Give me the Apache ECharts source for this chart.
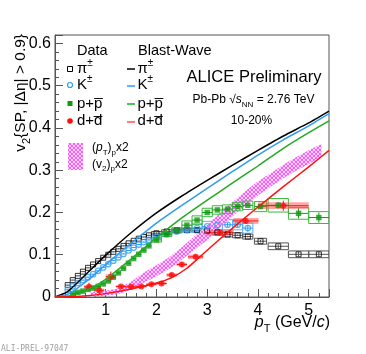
<!DOCTYPE html>
<html>
<head>
<meta charset="utf-8">
<script src="https://cdn.jsdelivr.net/npm/echarts@6/dist/echarts.min.js"></script>
<style>
  html, body { margin: 0; padding: 0; background: #fff; }
  #chart { width: 366px; height: 354px; }
</style>
</head>
<body>
<div id="chart"></div>
<script>
// pions (open black squares)
const piX = [0.25, 0.35, 0.45, 0.55, 0.65, 0.75, 0.85, 0.95, 1.05, 1.15, 1.25, 1.35, 1.45, 1.55, 1.65, 1.75, 1.85,
  2.0, 2.2, 2.4, 2.6, 2.8, 3.0, 3.2, 3.4, 3.6, 3.8, 4.05, 4.4, 4.8, 5.2];
const piY = [0.028, 0.04, 0.05, 0.06, 0.069, 0.077, 0.085, 0.093, 0.1, 0.107, 0.114, 0.121, 0.127, 0.133, 0.138, 0.142, 0.146,
  0.151, 0.155, 0.157, 0.158, 0.158, 0.157, 0.153, 0.148, 0.146, 0.143, 0.132, 0.12, 0.101, 0.101];
const piBin = [0.05, 0.05, 0.05, 0.05, 0.05, 0.05, 0.05, 0.05, 0.05, 0.05, 0.05, 0.05, 0.05, 0.05, 0.05, 0.05, 0.05,
  0.1, 0.1, 0.1, 0.1, 0.1, 0.1, 0.1, 0.1, 0.1, 0.1, 0.12, 0.2, 0.2, 0.2];
const piSys = [0, 0, 0, 0, 0, 0, 0, 0, 0, 0, 0, 0, 0, 0, 0, 0, 0,
  0.004, 0.004, 0.004, 0.004, 0.004, 0.006, 0.006, 0.006, 0.006, 0.006, 0.007, 0.008, 0.008, 0.008];
const piStat = [0.001, 0.001, 0.001, 0.001, 0.001, 0.001, 0.001, 0.001, 0.001, 0.001, 0.001, 0.001, 0.001, 0.001, 0.001, 0.001, 0.001,
  0.002, 0.002, 0.002, 0.002, 0.002, 0.002, 0.002, 0.002, 0.002, 0.002, 0.003, 0.004, 0.005, 0.006];

// kaons (open blue circles)
const kX = [0.25, 0.35, 0.45, 0.55, 0.65, 0.75, 0.85, 0.95, 1.05, 1.15, 1.25, 1.35, 1.45, 1.55, 1.65, 1.75, 1.85,
  2.0, 2.2, 2.4, 2.6, 2.8, 3.0, 3.2, 3.4, 3.6, 3.8];
const kY = [0.017, 0.025, 0.033, 0.04, 0.047, 0.054, 0.062, 0.07, 0.078, 0.086, 0.094, 0.102, 0.11, 0.117, 0.124, 0.13, 0.135,
  0.142, 0.149, 0.155, 0.159, 0.163, 0.167, 0.17, 0.171, 0.171, 0.163];
const kBin = [0.05, 0.05, 0.05, 0.05, 0.05, 0.05, 0.05, 0.05, 0.05, 0.05, 0.05, 0.05, 0.05, 0.05, 0.05, 0.05, 0.05,
  0.1, 0.1, 0.1, 0.1, 0.1, 0.1, 0.1, 0.1, 0.1, 0.1];
const kSys = [0, 0, 0, 0, 0, 0, 0, 0, 0, 0, 0, 0, 0, 0, 0, 0, 0,
  0.004, 0.004, 0.004, 0.005, 0.01, 0.012, 0.012, 0.012, 0.012, 0.012];
const kStat = [0.001, 0.001, 0.001, 0.001, 0.001, 0.001, 0.001, 0.001, 0.001, 0.001, 0.001, 0.001, 0.001, 0.001, 0.001, 0.001, 0.001,
  0.002, 0.002, 0.002, 0.002, 0.003, 0.003, 0.004, 0.005, 0.006, 0.008];

// protons (filled green squares)
const pX = [0.35, 0.45, 0.55, 0.65, 0.75, 0.85, 0.95, 1.05, 1.15, 1.25, 1.35, 1.45, 1.55, 1.65, 1.75, 1.85,
  2.0, 2.2, 2.4, 2.6, 2.8, 3.0, 3.2, 3.4, 3.6, 3.8, 4.05, 4.4, 4.8, 5.2];
const pY = [0.008, 0.011, 0.014, 0.018, 0.021, 0.025, 0.031, 0.038, 0.047, 0.057, 0.068, 0.08, 0.091, 0.101, 0.111, 0.121,
  0.135, 0.148, 0.159, 0.17, 0.182, 0.2, 0.206, 0.208, 0.214, 0.217, 0.214, 0.217, 0.198, 0.188];
const pBin = [0.05, 0.05, 0.05, 0.05, 0.05, 0.05, 0.05, 0.05, 0.05, 0.05, 0.05, 0.05, 0.05, 0.05, 0.05, 0.05,
  0.1, 0.1, 0.1, 0.1, 0.1, 0.1, 0.1, 0.1, 0.1, 0.1, 0.12, 0.2, 0.2, 0.2];
const pSys = [0, 0, 0, 0, 0, 0, 0, 0, 0, 0, 0, 0, 0, 0, 0, 0,
  0.005, 0.005, 0.005, 0.01, 0.01, 0.01, 0.01, 0.01, 0.01, 0.01, 0.012, 0.016, 0.014, 0.014];
const pStat = [0.001, 0.001, 0.001, 0.001, 0.001, 0.001, 0.001, 0.001, 0.001, 0.001, 0.001, 0.001, 0.001, 0.001, 0.001, 0.001,
  0.002, 0.002, 0.002, 0.002, 0.002, 0.002, 0.002, 0.002, 0.002, 0.002, 0.005, 0.008, 0.012, 0.012];

// deuterons (filled red circles)
const dX = [0.67, 0.87, 1.1, 1.3, 1.5, 1.7, 1.9, 2.1, 2.3, 2.5, 2.77, 3.25, 3.76, 4.5];
const dY = [0.024, 0.016, 0.048, 0.025, 0.024, 0.025, 0.03, 0.032, 0.052, 0.077, 0.095, 0.152, 0.18, 0.216];
const dBin = [0.1, 0.1, 0.1, 0.1, 0.1, 0.1, 0.1, 0.1, 0.1, 0.1, 0.15, 0.27, 0.25, 0.5];
const dSys = [0.004, 0.004, 0.006, 0.003, 0.003, 0.003, 0.003, 0.003, 0.004, 0.004, 0.005, 0.007, 0.007, 0.008];
const dStat = [0.01, 0.012, 0.012, 0.004, 0.004, 0.004, 0.004, 0.004, 0.005, 0.006, 0.006, 0.006, 0.006, 0.012];

// (pT)p x2, (v2)p x2 band
const bandX = [0.7, 1.0, 1.25, 1.5, 1.75, 2.0, 2.25, 2.5, 2.75, 3.0, 3.25, 3.5, 3.75, 4.0, 4.25, 4.5, 4.75, 5.0, 5.25];
const bandLow = [0.001, 0.003, 0.007, 0.018, 0.034, 0.049, 0.066, 0.088, 0.112, 0.135, 0.165, 0.191, 0.216, 0.24, 0.261, 0.281, 0.299, 0.315, 0.332];
const bandHigh = [0.011, 0.015, 0.021, 0.036, 0.058, 0.075, 0.094, 0.118, 0.144, 0.169, 0.199, 0.225, 0.25, 0.274, 0.293, 0.313, 0.331, 0.347, 0.362];

// blast-wave curves
const bwX = [0, 0.25, 0.5, 0.75, 1.0, 1.5, 2.0, 2.5, 3.0, 3.5, 4.0, 4.5, 5.0, 5.4];
const bwPi = [0, 0.013, 0.041, 0.07, 0.099, 0.152, 0.199, 0.239, 0.276, 0.312, 0.347, 0.381, 0.412, 0.44];
const bwK = [0, 0.006, 0.026, 0.05, 0.077, 0.127, 0.175, 0.217, 0.257, 0.297, 0.336, 0.372, 0.405, 0.434];
const bwP = [0, 0.002, 0.01, 0.024, 0.042, 0.09, 0.14, 0.187, 0.229, 0.27, 0.31, 0.352, 0.389, 0.417];
const bwDX = [0, 0.5, 1.0, 1.5, 2.0, 2.3, 2.6, 2.9, 3.2, 3.5, 4.0, 4.5, 5.0, 5.4];
const bwD = [0, 0.002, 0.008, 0.019, 0.033, 0.046, 0.068, 0.1, 0.132, 0.163, 0.213, 0.261, 0.308, 0.347];

const FF = '"Liberation Sans", Arial, Helvetica, sans-serif';
const BLACK = '#000000';
const BLUE = '#2d9cf2';
const GREEN = '#129912';
const RED = '#ff1010';

const zip = (xs, ys) => xs.map((x, i) => [x, ys[i]]);
const errData = (xs, ys, bin, sys, stat) => xs.map((x, i) => [x, ys[i], bin[i], sys[i], stat[i]]);

// hatch pattern for the magenta band
const hatch = document.createElement('canvas');
hatch.width = 4;
hatch.height = 4;
const hg = hatch.getContext('2d');
hg.fillStyle = '#ff5cff';
hg.fillRect(0, 0, 4, 4);
hg.fillStyle = '#ffd6ff';
for (let i = 0; i < 4; i++) {
  hg.fillRect(i, i, 1, 1);
  hg.fillRect(3 - i, i, 1, 1);
}
const hatchFill = { image: hatch, repeat: 'repeat' };

function errorSeries(data, boxStyle, barColor) {
  return {
    type: 'custom',
    data: data,
    encode: { x: 0, y: 1 },
    clip: true,
    silent: true,
    renderItem: function (params, api) {
      const x = api.value(0), y = api.value(1);
      const bin = api.value(2), sys = api.value(3), stat = api.value(4);
      const c = api.coord([x, y]);
      const l = api.coord([x - bin, y]);
      const r = api.coord([x + bin, y]);
      const children = [];
      if (sys > 0) {
        const a = api.coord([x - bin, y + sys]);
        const b = api.coord([x + bin, y - sys]);
        children.push({
          type: 'rect',
          shape: { x: a[0], y: a[1], width: b[0] - a[0], height: b[1] - a[1] },
          style: boxStyle
        });
      }
      const t = api.coord([x, y + stat]);
      const d = api.coord([x, y - stat]);
      children.push({ type: 'line', shape: { x1: l[0], y1: c[1], x2: r[0], y2: c[1] }, style: { stroke: barColor, lineWidth: 1 } });
      children.push({ type: 'line', shape: { x1: c[0], y1: t[1], x2: c[0], y2: d[1] }, style: { stroke: barColor, lineWidth: 1 } });
      return { type: 'group', children: children };
    }
  };
}

function bwLine(xs, ys, color) {
  return {
    type: 'line',
    data: zip(xs, ys),
    smooth: 0.2,
    showSymbol: false,
    silent: true,
    lineStyle: { color: color, width: 1.5 }
  };
}

const chart = echarts.init(document.getElementById('chart'));

const axisColor = '#555';
const sub = (size) => ({ fontSize: size, fontFamily: FF, verticalAlign: 'bottom', lineHeight: size + 1 });
const sup = (size) => ({ fontSize: size, fontFamily: FF, verticalAlign: 'top', lineHeight: size + 1 });
const ital = (size) => ({ fontSize: size, fontFamily: FF, fontStyle: 'italic' });

function label(x, y, text, size, extra) {
  return {
    type: 'text', x: x, y: y, silent: true,
    style: Object.assign({
      text: text, fontSize: size, fontFamily: FF, fill: '#000',
      align: 'left', verticalAlign: 'middle', lineHeight: Math.round(size * 1.4),
      rich: { sub: sub(Math.round(size * 0.68)), sup: sup(Math.round(size * 0.68)), i: ital(size) }
    }, extra || {})
  };
}

const option = {
  animation: false,
  backgroundColor: '#fff',
  grid: { left: 55, right: 37, top: 35, bottom: 57, show: true, borderColor: axisColor, borderWidth: 1 },
  xAxis: {
    type: 'value', min: 0, max: 5.4, interval: 1,
    axisLine: { show: true, lineStyle: { color: axisColor } },
    axisTick: { show: true, inside: true, length: 8, lineStyle: { color: axisColor } },
    minorTick: { show: true, splitNumber: 5, length: 4, lineStyle: { color: axisColor } },
    splitLine: { show: false },
    axisLabel: {
      fontFamily: FF, fontSize: 16, color: '#000', margin: 6, showMaxLabel: false,
      formatter: (v) => (v > 0 && v <= 5 ? String(v) : '')
    }
  },
  yAxis: {
    type: 'value', min: 0, max: 0.62, interval: 0.1,
    axisLine: { show: true, lineStyle: { color: axisColor } },
    axisTick: { show: true, inside: true, length: 8, lineStyle: { color: axisColor } },
    minorTick: { show: true, splitNumber: 5, length: 4, lineStyle: { color: axisColor } },
    splitLine: { show: false },
    axisLabel: {
      fontFamily: FF, fontSize: 16, color: '#000', margin: 4, showMaxLabel: false,
      formatter: (v) => (v === 0 ? '0' : v.toFixed(1))
    }
  },
  series: [
    bwLine(bwX, bwPi, BLACK),
    bwLine(bwX, bwK, BLUE),
    bwLine(bwX, bwP, '#22aa22'),
    bwLine(bwDX, bwD, RED),
    errorSeries(errData(piX, piY, piBin, piSys, piStat), { fill: 'none', stroke: '#555', lineWidth: 1 }, '#555'),
    {
      type: 'scatter', data: zip(piX, piY), symbol: 'rect', symbolSize: 5, silent: true,
      itemStyle: { color: 'rgba(0,0,0,0)', borderColor: BLACK, borderWidth: 1 }
    },
    errorSeries(errData(kX, kY, kBin, kSys, kStat), { fill: 'none', stroke: '#5ab0f5', lineWidth: 1 }, BLUE),
    {
      type: 'scatter', data: zip(kX, kY), symbol: 'circle', symbolSize: 5.5, silent: true,
      itemStyle: { color: 'rgba(0,0,0,0)', borderColor: BLUE, borderWidth: 1.2 }
    },
    {
      type: 'custom', data: [[0, 0]], silent: true, clip: true,
      renderItem: function (params, api) {
        const pts = [];
        for (let i = 0; i < bandX.length; i++) pts.push(api.coord([bandX[i], bandHigh[i]]));
        for (let i = bandX.length - 1; i >= 0; i--) pts.push(api.coord([bandX[i], bandLow[i]]));
        return { type: 'polygon', shape: { points: pts }, style: { fill: hatchFill, stroke: null } };
      }
    },
    errorSeries(errData(pX, pY, pBin, pSys, pStat), { fill: 'none', stroke: '#3cb83c', lineWidth: 1 }, GREEN),
    {
      type: 'scatter', data: zip(pX, pY), symbol: 'rect', symbolSize: 5.5, silent: true,
      itemStyle: { color: GREEN }
    },
    errorSeries(errData(dX, dY, dBin, dSys, dStat), { fill: 'rgba(255,80,80,0.5)', stroke: null }, RED),
    {
      type: 'scatter', data: zip(dX, dY), symbol: 'circle', symbolSize: 6, silent: true,
      itemStyle: { color: RED }
    }
  ],
  graphic: [
    // y axis title
    {
      type: 'text', x: 21, y: 34, rotation: Math.PI / 2, silent: true,
      style: {
        text: 'v{sub|2}{SP, |Δη| > 0.9}', fontSize: 15.5, fontFamily: FF, fill: '#000',
        align: 'right', verticalAlign: 'middle', lineHeight: 22,
        rich: { sub: sub(11) }
      }
    },
    // x axis title
    label(330, 323, '{i|p}{sub|T} (GeV/{i|c})', 16, { align: 'right' }),
    // legend headers
    label(77, 50.5, 'Data', 14.5),
    label(138, 50.5, 'Blast-Wave', 14.5),
    // data markers
    { type: 'rect', silent: true, shape: { x: 67.5, y: 66.5, width: 5, height: 5 }, style: { fill: 'none', stroke: BLACK, lineWidth: 1 } },
    { type: 'circle', silent: true, shape: { cx: 70, cy: 85, r: 2.5 }, style: { fill: 'none', stroke: BLUE, lineWidth: 1.2 } },
    { type: 'rect', silent: true, shape: { x: 67.5, y: 101, width: 5, height: 5 }, style: { fill: GREEN } },
    { type: 'circle', silent: true, shape: { cx: 70, cy: 121, r: 2.8 }, style: { fill: RED } },
    label(77, 68.5, 'π{sup|±}', 15),
    label(77, 85, 'K{sup|±}', 15),
    label(77, 103.5, 'p+p\u0305', 15),
    label(77, 121, 'd+d\u0305', 15),
    // blast-wave line samples
    { type: 'line', silent: true, shape: { x1: 127, y1: 69, x2: 135, y2: 69 }, style: { stroke: BLACK, lineWidth: 1.5 } },
    { type: 'line', silent: true, shape: { x1: 127, y1: 86, x2: 135, y2: 86 }, style: { stroke: BLUE, lineWidth: 1.5 } },
    { type: 'line', silent: true, shape: { x1: 127, y1: 104, x2: 135, y2: 104 }, style: { stroke: '#22aa22', lineWidth: 1.5 } },
    { type: 'line', silent: true, shape: { x1: 127, y1: 122, x2: 135, y2: 122 }, style: { stroke: '#ff5050', lineWidth: 1.5 } },
    label(137.5, 68.5, 'π{sup|±}', 15),
    label(137.5, 85, 'K{sup|±}', 15),
    label(137.5, 103.5, 'p+p\u0305', 15),
    label(137.5, 121, 'd+d\u0305', 15),
    // band legend
    { type: 'rect', silent: true, shape: { x: 68, y: 143, width: 15, height: 27 }, style: { fill: hatchFill } },
    label(92, 148, '({i|p}{sub|T}){sub|p}x2', 12),
    label(92, 164.5, '(v{sub|2}){sub|p}x2', 12),
    // annotations
    label(254, 77, 'ALICE Preliminary', 16.5, { align: 'center' }),
    label(253.5, 100, 'Pb-Pb √{i|s}{sub|NN} = 2.76 TeV', 12, { align: 'center' }),
    label(251.5, 121, '10-20%', 12, { align: 'center' }),
    {
      type: 'text', x: 1, y: 349, silent: true,
      style: { text: 'ALI-PREL-97047', fontSize: 8, fontFamily: '"DejaVu Sans Mono", monospace', fill: '#a0a0a0', align: 'left', verticalAlign: 'middle' }
    }
  ]
};

chart.setOption(option);
</script>
</body>
</html>
